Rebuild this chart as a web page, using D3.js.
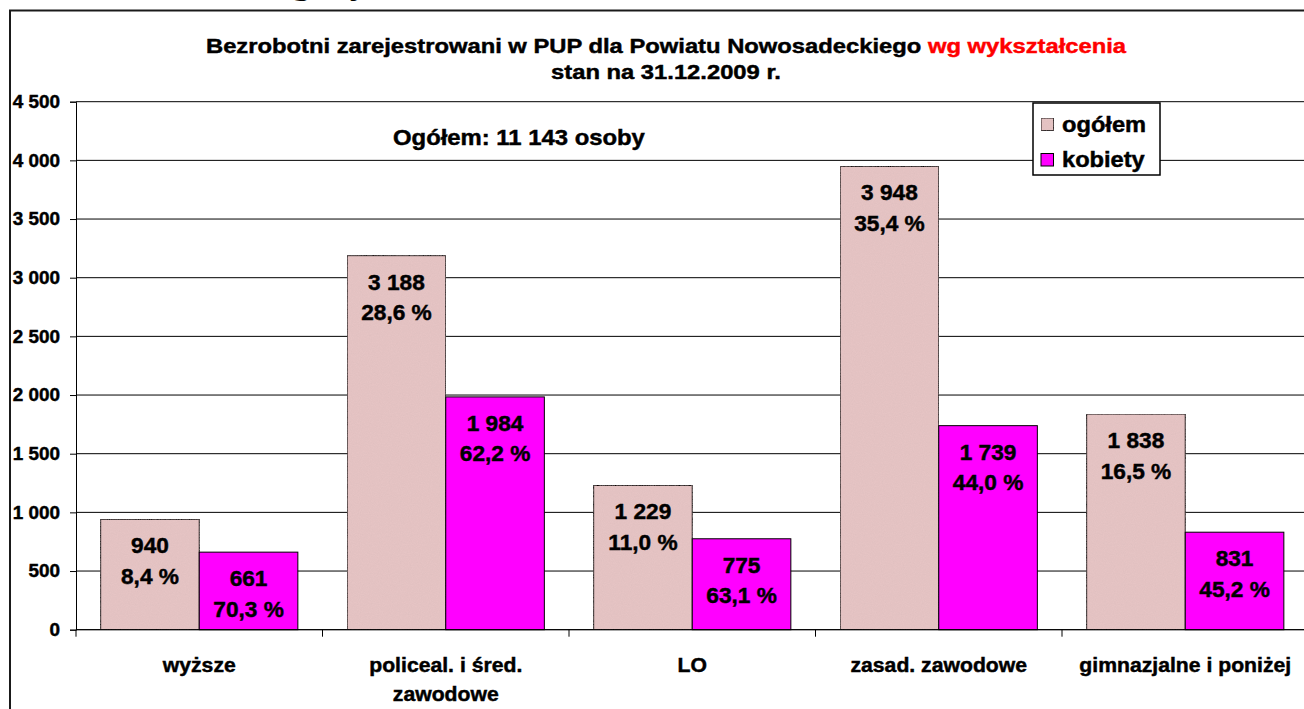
<!DOCTYPE html>
<html>
<head>
<meta charset="utf-8">
<script src="https://cdn.jsdelivr.net/npm/d3@7"></script>
<style>
  body { margin: 0; background: #fff; }
  svg text { font-family: Arial, "Liberation Sans", sans-serif; font-weight: bold; fill: #000; stroke: #000; stroke-width: 0.45px; }
  svg text tspan.red { fill: #ff0000; stroke: #ff0000; }
</style>
</head>
<body>
<div id="chart"></div>
<script>
// Data
const categories = ["wyższe", "policeal. i śred. zawodowe", "LO", "zasad. zawodowe", "gimnazjalne i poniżej"];
const categoryLines = [["wyższe"], ["policeal. i śred.", "zawodowe"], ["LO"], ["zasad. zawodowe"], ["gimnazjalne i poniżej"]];
const series = ["ogółem", "kobiety"];
const ogolem = [940, 3188, 1229, 3948, 1838];
const kobiety = [661, 1984, 775, 1739, 831];
const pctOgolem = ["8,4 %", "28,6 %", "11,0 %", "35,4 %", "16,5 %"];
const pctKobiety = ["70,3 %", "62,2 %", "63,1 %", "44,0 %", "45,2 %"];
const yTicks = [0, 500, 1000, 1500, 2000, 2500, 3000, 3500, 4000, 4500];
const colors = { "ogółem": "#e6c4c4", "kobiety": "#ff00ff" };

const width = 1304, height = 709;
const plot = { left: 76, right: 1308.5, top: 101.7, bottom: 629.7 };

const plLocale = d3.formatLocale({ thousands: " ", grouping: [3], decimal: ",", currency: ["", ""] });
const fmt = plLocale.format(",d");

const svg = d3.select("#chart")
    .append("svg")
    .attr("width", width)
    .attr("height", height);

// speckled fill for the "ogółem" bars
const defs = svg.append("defs");
const speckle = defs.append("filter").attr("id", "speckle")
    .attr("x", 0).attr("y", 0).attr("width", 1).attr("height", 1);
speckle.append("feTurbulence")
    .attr("type", "fractalNoise").attr("baseFrequency", 0.9).attr("numOctaves", 2).attr("seed", 3)
    .attr("result", "noise");
speckle.append("feColorMatrix").attr("in", "noise").attr("type", "matrix")
    .attr("values", "0 0 0 0 0.6  0 0 0 0 0.45  0 0 0 0 0.45  0 0 0 0.35 -0.08")
    .attr("result", "dots");
speckle.append("feComposite").attr("in", "dots").attr("in2", "SourceGraphic").attr("operator", "in")
    .attr("result", "dotsIn");
speckle.append("feMerge").call(m => {
    m.append("feMergeNode").attr("in", "SourceGraphic");
    m.append("feMergeNode").attr("in", "dotsIn");
});

// helper: text stretched a bit horizontally like the original rendering
function addText(parent, x, y, txt, size, sx, anchor) {
    return parent.append("text")
        .attr("transform", `translate(${x},${y}) scale(${sx},1)`)
        .attr("text-anchor", anchor || "middle")
        .style("font-size", size + "px")
        .text(txt);
}

// fragment of the page heading cut off above the chart
svg.append("text")
    .attr("x", 262)
    .attr("y", -8)
    .style("font-family", "'Liberation Serif', 'Times New Roman', serif")
    .style("font-size", "40px")
    .style("stroke-width", 0)
    .text("wg wykształcenia");

// chart frame
svg.append("rect")
    .attr("x", 10)
    .attr("y", 10.5)
    .attr("width", 1400)
    .attr("height", 800)
    .attr("fill", "none")
    .attr("stroke", "#1a1a1a")
    .attr("stroke-width", 2);

const x0 = d3.scaleBand()
    .domain(categories)
    .range([plot.left, plot.right])
    .paddingInner(0.2)
    .paddingOuter(0.1);

const x1 = d3.scaleBand()
    .domain(series)
    .range([0, x0.bandwidth()]);

const y = d3.scaleLinear()
    .domain([0, 4500])
    .range([plot.bottom, plot.top]);

// gridlines
svg.append("g")
    .selectAll("line")
    .data(yTicks)
    .enter().append("line")
    .attr("x1", plot.left)
    .attr("x2", plot.right)
    .attr("y1", d => y(d))
    .attr("y2", d => y(d))
    .attr("stroke", "#000")
    .attr("stroke-width", 1);

// y axis
const yAxis = svg.append("g")
    .attr("transform", `translate(${plot.left},0)`)
    .call(d3.axisLeft(y).tickValues(yTicks).tickSize(6).tickPadding(10).tickFormat(fmt));
yAxis.select(".domain").attr("stroke", "#000");
yAxis.selectAll("line").attr("stroke", "#000");
yAxis.selectAll("text")
    .style("font-size", "18px")
    .attr("font-family", null)
    .attr("transform", "scale(1.05,1)")
    .attr("x", -16 / 1.05);

// bars
const groups = svg.append("g")
    .selectAll("g")
    .data(categories.map((c, i) => ({ c, i })))
    .enter().append("g")
    .attr("transform", d => `translate(${x0(d.c)},0)`);

const barData = d => [
    { key: "ogółem", value: ogolem[d.i], pct: pctOgolem[d.i] },
    { key: "kobiety", value: kobiety[d.i], pct: pctKobiety[d.i] }
];

groups.selectAll("rect")
    .data(barData)
    .enter().append("rect")
    .attr("x", d => x1(d.key))
    .attr("y", d => y(d.value))
    .attr("width", x1.bandwidth())
    .attr("height", d => y(0) - y(d.value))
    .attr("fill", d => colors[d.key])
    .attr("filter", d => d.key === "ogółem" ? "url(#speckle)" : null)
    .attr("stroke", "#000")
    .attr("stroke-width", 1);

// value labels
groups.each(function(g) {
    const sel = d3.select(this);
    barData(g).forEach(d => {
        const cx = x1(d.key) + x1.bandwidth() / 2;
        const top = y(d.value);
        addText(sel, cx, top + 34, fmt(d.value), 22, 1.03);
        addText(sel, cx, top + 64.5, d.pct, 22, 1.03);
    });
});

// x axis
svg.append("line")
    .attr("x1", plot.left)
    .attr("x2", plot.right)
    .attr("y1", y(0))
    .attr("y2", y(0))
    .attr("stroke", "#000");

svg.append("g")
    .selectAll("line")
    .data(categories)
    .enter().append("line")
    .attr("x1", d => x0(d) - x0.step() * x0.paddingOuter())
    .attr("x2", d => x0(d) - x0.step() * x0.paddingOuter())
    .attr("y1", y(0))
    .attr("y2", y(0) + 7)
    .attr("stroke", "#000");

categories.forEach((c, i) => {
    const cx = x0(c) + x0.bandwidth() / 2;
    categoryLines[i].forEach((line, j) => {
        addText(svg, cx, 672 + j * 29, line, 20, 1.06);
    });
});

// title
const title = svg.append("text")
    .attr("transform", "translate(666,52.5) scale(1.16,1)")
    .attr("text-anchor", "middle")
    .style("font-size", "20.5px");
title.append("tspan").text("Bezrobotni zarejestrowani w PUP dla Powiatu Nowosadeckiego ");
title.append("tspan").attr("class", "red").text("wg wykształcenia");

addText(svg, 666, 79, "stan na 31.12.2009 r.", 20.5, 1.16);

// total annotation
addText(svg, 393, 144.5, "Ogółem: 11 143 osoby", 21.5, 1.11, "start");

// legend
const legend = svg.append("g");
legend.append("rect")
    .attr("x", 1033)
    .attr("y", 103)
    .attr("width", 127)
    .attr("height", 72)
    .attr("fill", "#fff")
    .attr("stroke", "#000")
    .attr("stroke-width", 1.5);

series.forEach((s, i) => {
    legend.append("rect")
        .attr("x", 1041)
        .attr("y", 118 + i * 35.5)
        .attr("width", 12.5)
        .attr("height", 12.5)
        .attr("fill", colors[s])
        .attr("filter", s === "ogółem" ? "url(#speckle)" : null)
        .attr("stroke", "#000");
    addText(legend, 1062, 131.5 + i * 35.5, s, 21.5, 1.1, "start");
});
</script>
</body>
</html>
